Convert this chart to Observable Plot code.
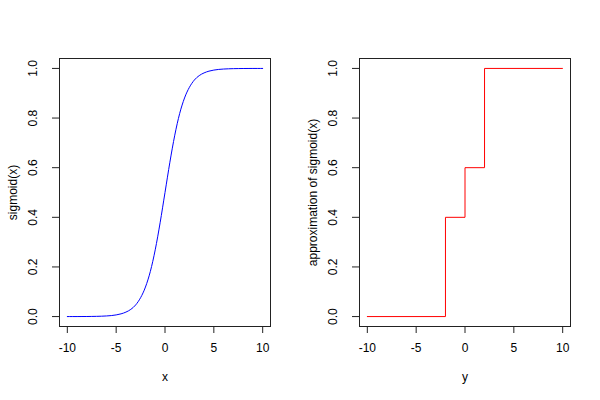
<!DOCTYPE html>
<html>
<head>
<meta charset="utf-8">
<script src="https://cdn.jsdelivr.net/npm/d3@7"></script>
<script src="https://cdn.jsdelivr.net/npm/@observablehq/plot@0.6"></script>
<style>
  html, body { margin: 0; padding: 0; background: #fff; }
  #wrap { display: flex; flex-direction: row; width: 600px; height: 400px; }
  svg { font-family: "Liberation Sans", Arial, Helvetica, sans-serif; }
</style>
</head>
<body>
<div id="wrap"></div>
<script>
// Left panel: sigmoid curve
const sigX = [-10,-9.5,-9,-8.5,-8,-7.5,-7,-6.5,-6,-5.5,-5,-4.5,-4,-3.5,-3,-2.5,-2,-1.5,-1,-0.5,0,
              0.5,1,1.5,2,2.5,3,3.5,4,4.5,5,5.5,6,6.5,7,7.5,8,8.5,9,9.5,10];
const sigY = [0.00005,0.0001,0.0001,0.0002,0.0003,0.0006,0.0009,0.0015,0.0025,0.004,0.0067,0.011,0.018,0.029,0.047,0.076,0.119,0.182,0.269,0.378,0.5,
              0.622,0.731,0.818,0.881,0.924,0.953,0.971,0.982,0.989,0.9933,0.996,0.9975,0.9985,0.9991,0.9994,0.9997,0.9998,0.9999,0.9999,0.99995];

// Right panel: step approximation
const stepX = [-10, -2, 0, 2, 10];
const stepY = [0, 0.4, 0.6, 1, 1];

const xTicks = [-10, -5, 0, 5, 10];
const yTicks = [0, 0.2, 0.4, 0.6, 0.8, 1.0];

const leftTitleX = "x";
const leftTitleY = "sigmoid(x)";
const rightTitleX = "y";
const rightTitleY = "approximation of sigmoid(x)";

const sigData = sigX.map((x, i) => ({x, y: sigY[i]}));
const stepData = stepX.map((x, i) => ({x, y: stepY[i]}));

function panel(data, color, curve, xt, yt) {
  return Plot.plot({
    width: 300,
    height: 400,
    marginLeft: 59,
    marginRight: 30,
    marginTop: 58,
    marginBottom: 74,
    style: {fontSize: "12px", fontFamily: "'Liberation Sans', Arial, Helvetica, sans-serif", color: "#000", background: "#fff"},
    x: {domain: [-10.8, 10.8]},
    y: {domain: [-0.04, 1.04]},
    marks: [
      Plot.frame({stroke: "#222", strokeWidth: 1}),
      Plot.axisX({ticks: xTicks, tickSize: 7, tickFormat: () => "", label: null, stroke: "#222"}),
      Plot.axisY({ticks: yTicks, tickSize: 7, tickFormat: () => "", label: null, stroke: "#222"}),
      Plot.text(xTicks, {x: d => d, frameAnchor: "bottom", dy: 22, text: d => String(d), fill: "#000", fontSize: 12, textAnchor: "middle", lineAnchor: "middle"}),
      Plot.text(yTicks, {y: d => d, frameAnchor: "left", dx: -26, rotate: -90, text: d => d3.format(".1f")(d), fill: "#000", fontSize: 12, textAnchor: "middle", lineAnchor: "middle"}),
      Plot.text([xt], {frameAnchor: "bottom", dy: 51, text: d => d, fill: "#000", fontSize: 12, textAnchor: "middle", lineAnchor: "middle"}),
      Plot.text([yt], {frameAnchor: "left", dx: -46, rotate: -90, text: d => d, fill: "#000", fontSize: 12, textAnchor: "middle", lineAnchor: "middle"}),
      Plot.line(data, {x: "x", y: "y", stroke: color, strokeWidth: 1, curve})
    ]
  });
}

const wrap = document.getElementById("wrap");
wrap.appendChild(panel(sigData, "#0000ff", "monotone-x", leftTitleX, leftTitleY));
wrap.appendChild(panel(stepData, "#ff0000", "step-after", rightTitleX, rightTitleY));
</script>
</body>
</html>
